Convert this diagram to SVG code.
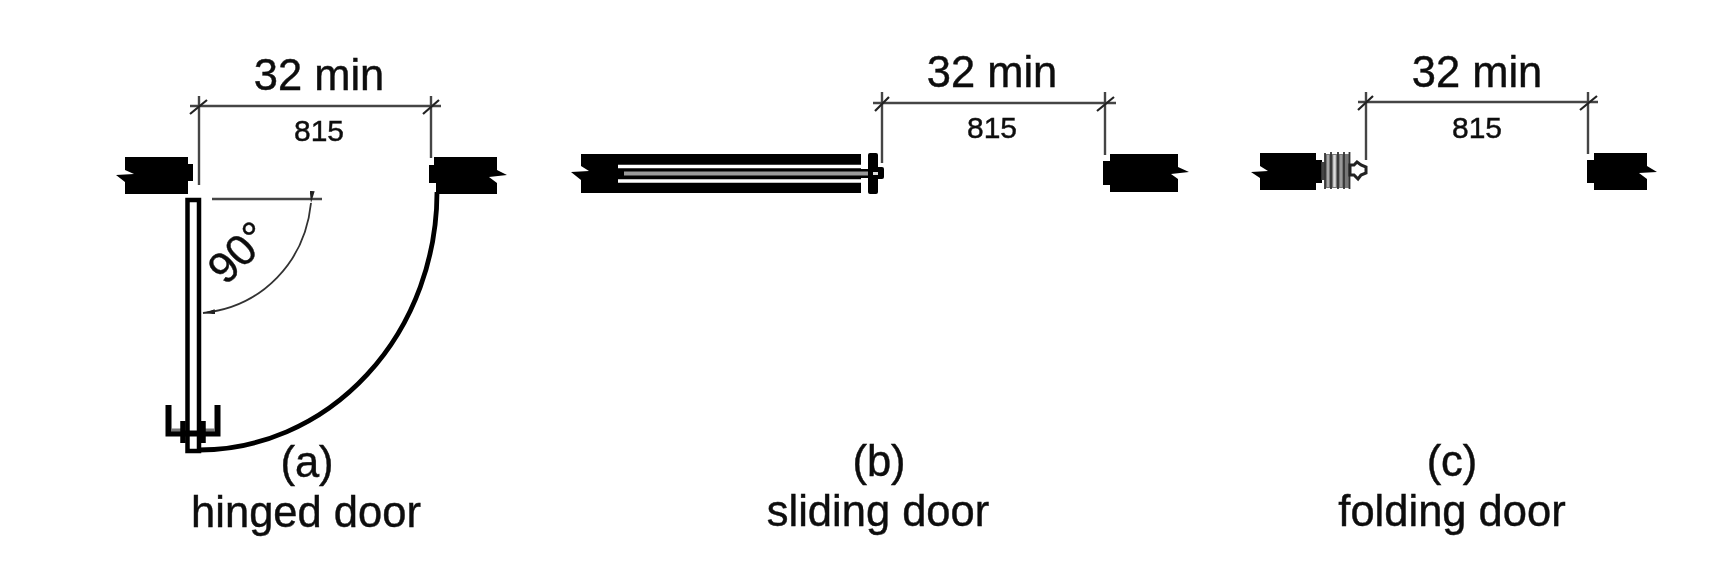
<svg xmlns="http://www.w3.org/2000/svg" width="1720" height="566" viewBox="0 0 1720 566">
<style>
text{font-family:"Liberation Sans",Arial,sans-serif;fill:#111;stroke:#111;stroke-width:.45;text-anchor:middle}
.big{font-size:43.5px}.mm{font-size:30px}.cap{font-size:43.5px}
.dim{fill:none;stroke:#444;stroke-width:2.4}
.tick{fill:none;stroke:#222;stroke-width:2.200}
.wall{fill:#000}
</style>
<defs>
<filter id="soft" x="-5%" y="-5%" width="110%" height="110%"><feGaussianBlur stdDeviation="0.6"/></filter>
<marker id="ah" viewBox="0 0 12 5" refX="12" refY="2.500" markerWidth="12" markerHeight="5" markerUnits="userSpaceOnUse" orient="auto"><path d="M0 0L12 2.500L0 5z" fill="#222"/></marker>
</defs>
<rect width="1720" height="566" fill="#fff"/>
<g filter="url(#soft)">
<g id="connectors">
<path class="dim" d="M199 96V185M431 96V158M190 106H441M882 92V163M1105 92V155M873 103H1116M1366 92V160M1588 92V154M1358 102H1598"/>
<path class="tick" d="M190 114L207 100M423 114L439 100M875 111L889 97M1097 111L1114 97M1358 110L1373 96M1580 110L1597 96"/>
<path class="dim" d="M212 199H322"/>
<path d="M311 203C305 262 262 307 203 313" fill="none" stroke="#333" stroke-width="1.800" marker-start="url(#ah)" marker-end="url(#ah)"/>
<path d="M437 192A238 258 0 0 1 199 450" fill="none" stroke="#000" stroke-width="4.800"/>
</g>
<g id="hinged-door">
<path class="wall" d="M125 157H188V164H193V181H188V194H125V182L116 175L134 174L125 170Z"/>
<path class="wall" d="M434 157H497V170L507 175L489 177L497 183V194H436V183H429V165H434Z"/>
<rect x="187.500" y="200" width="11.500" height="251" fill="#fff" stroke="#000" stroke-width="4.500"/>
<path d="M168.500 405V433.500H217.500V405" fill="none" stroke="#000" stroke-width="6"/>
<path d="M171 430H184M202 430H215" stroke="#777" stroke-width="3"/>
<path d="M183 421V443M203 421V443" stroke="#000" stroke-width="5.500"/>
<text class="big" x="319" y="90">32 min</text>
<text class="mm" x="319" y="141">815</text>
<text class="big" transform="translate(249 263) rotate(-45)">90°</text>
<text class="cap" x="307" y="477">(a)</text>
<text class="cap" x="306" y="527">hinged door</text>
</g>
<g id="sliding-door">
<path class="wall" d="M581 154H861V193H581V180L571 172L589 171L581 166Z"/>
<path d="M618 166.500H861M618 181H861" stroke="#fff" stroke-width="3.500"/>
<rect x="622" y="169" width="260" height="9" fill="#000"/>
<rect x="624" y="171.500" width="254" height="4" fill="#999"/>
<rect x="868" y="153" width="10" height="41" rx="2" fill="#000"/>
<rect x="876" y="167" width="8" height="12" rx="2" fill="#000"/>
<rect x="873" y="172" width="5" height="3" fill="#ddd"/>
<path class="wall" d="M1110 154H1178V167L1189 172L1171 174L1178 179V192H1110V185H1103V161H1110Z"/>
<text class="big" x="992" y="87">32 min</text>
<text class="mm" x="992" y="138">815</text>
<text class="cap" x="879" y="476">(b)</text>
<text class="cap" x="878" y="526">sliding door</text>
</g>
<g id="folding-door">
<path class="wall" d="M1260 153H1316V160H1322V183H1316V190H1260V178L1251 172L1268 171L1260 166Z"/>
<rect x="1325" y="154" width="24" height="34" fill="#777"/>
<path d="M1323 162V180" stroke="#444" stroke-width="3.500"/>
<path d="M1325 153V189M1331 152V189M1338 152V189M1344 152V189M1349.500 152V189" stroke="#333" stroke-width="1.800"/>
<path d="M1328 155V187" stroke="#aaa" stroke-width="2"/>
<path d="M1334.500 155V187" stroke="#ddd" stroke-width="2.500"/>
<path d="M1341 155V187" stroke="#999" stroke-width="2"/>
<path d="M1350 165L1354 165L1357 162L1361 165L1366 167V173L1361 175L1358 179L1354 175L1350 175Z" fill="#fff" stroke="#222" stroke-width="3"/>
<path class="wall" d="M1594 153H1647V166L1657 172L1639 173L1647 179V190H1594V183H1587V160H1594Z"/>
<text class="big" x="1477" y="87">32 min</text>
<text class="mm" x="1477" y="138">815</text>
<text class="cap" x="1452" y="476">(c)</text>
<text class="cap" x="1452" y="526">folding door</text>
</g>
</g>
</svg>
